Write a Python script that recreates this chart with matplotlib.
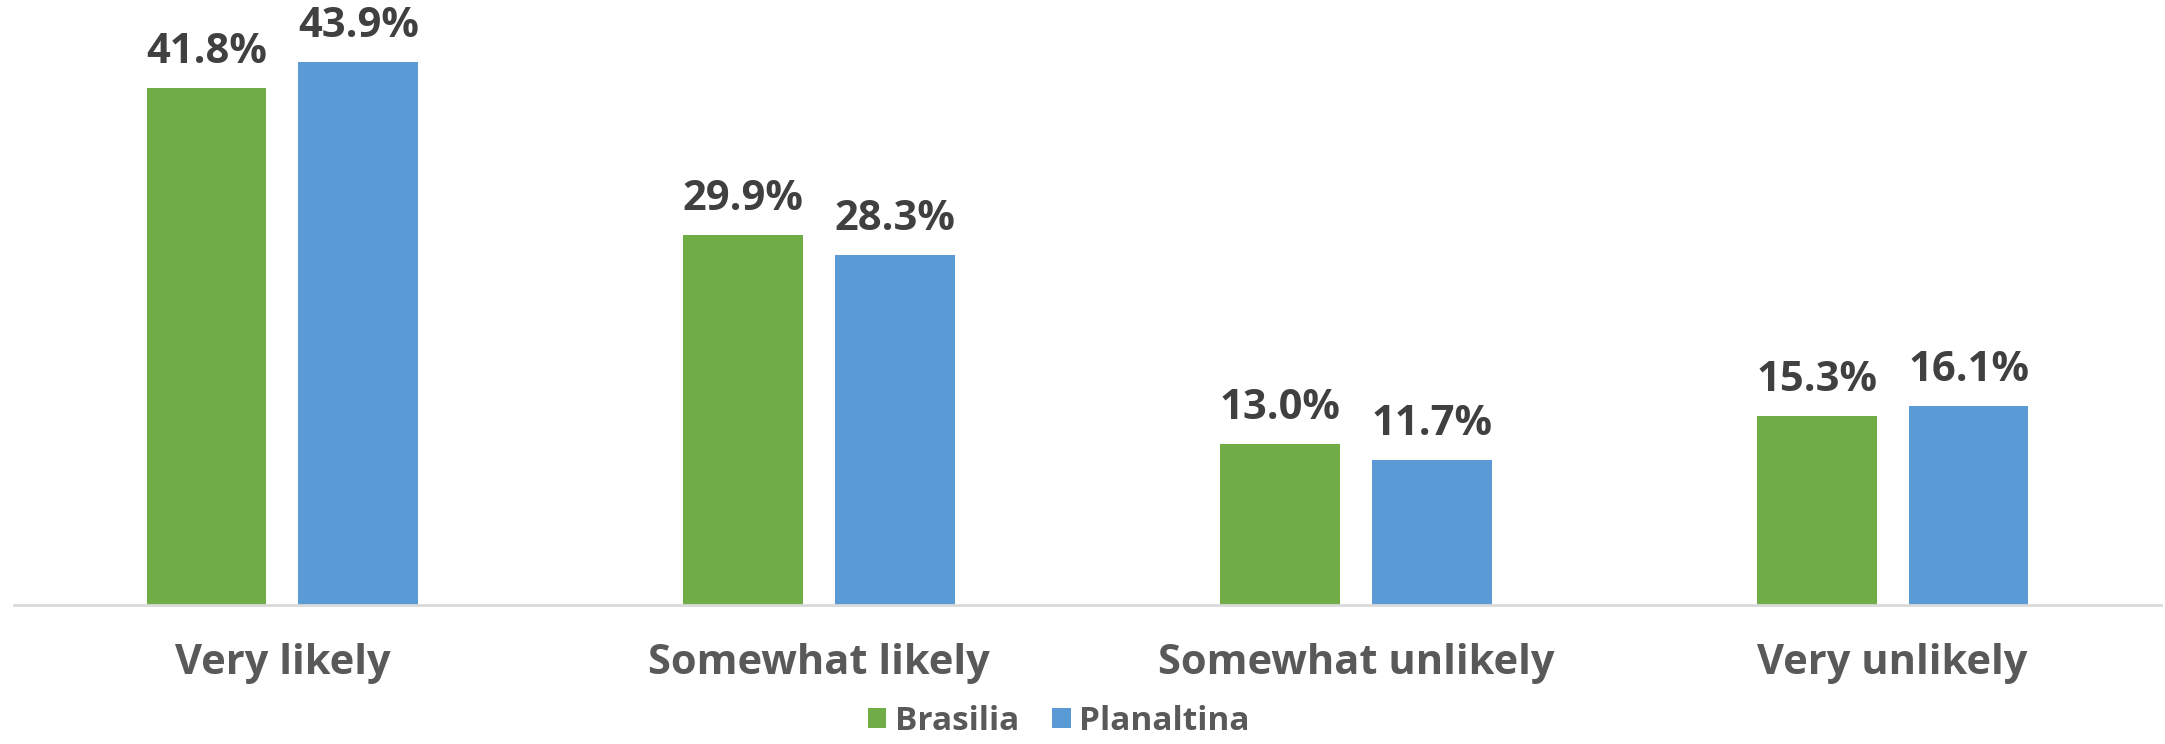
import numpy as np
import matplotlib.pyplot as plt

categories = ["Very likely", "Somewhat likely", "Somewhat unlikely", "Very unlikely"]
brasilia = [41.8, 29.9, 13.0, 15.3]
planaltina = [43.9, 28.3, 11.7, 16.1]
series_names = ["Brasilia", "Planaltina"]

green = "#70AD47"
blue = "#5B9BD5"

plt.rcParams['font.family'] = ['Open Sans', 'DejaVu Sans']

fig = plt.figure(figsize=(21.65, 7.44), dpi=100)
ax = fig.add_axes([14 / 2165, (744 - 605) / 744, 2147 / 2165, 605 / 744])

x = np.arange(len(categories))
w = 0.223
off = 0.1415

b1 = ax.bar(x - off, brasilia, w, color=green, label=series_names[0])
b2 = ax.bar(x + off, planaltina, w, color=blue, label=series_names[1])

for bars in (b1, b2):
    ax.bar_label(bars, labels=["%.1f%%" % b.get_height() for b in bars],
                 padding=11, fontsize=30, fontweight='bold', color='#404040')

ax.set_xlim(-0.5, 3.5)
ax.set_ylim(0, 48.95)
ax.set_xticks(x)
ax.set_xticklabels(categories, fontsize=30, fontweight='bold', color='#595959')
ax.tick_params(axis='x', length=0, pad=27)
ax.set_yticks([])
for s in ['top', 'right', 'left']:
    ax.spines[s].set_visible(False)
ax.spines['bottom'].set_color('#D9D9D9')
ax.spines['bottom'].set_linewidth(2)

leg = fig.legend(loc='lower center', bbox_to_anchor=(0.489, -0.032), ncol=2,
                 frameon=False, fontsize=24, handlelength=0.55, handleheight=0.55,
                 handletextpad=0.25, columnspacing=1.0)
for t in leg.get_texts():
    t.set_color('#595959')
    t.set_fontweight('bold')

fig.savefig("out.png", dpi=100)
